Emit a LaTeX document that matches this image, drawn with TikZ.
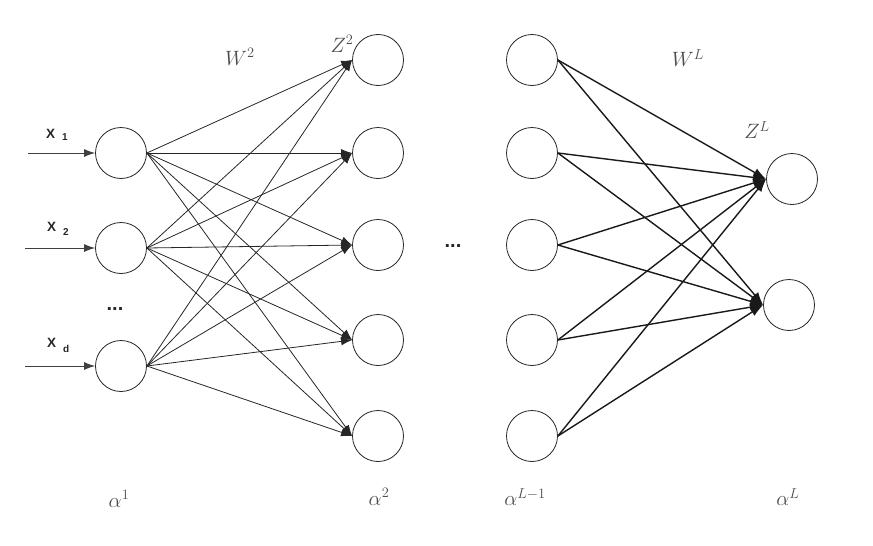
\documentclass[tikz,border=0pt]{standalone}
\usepackage{fontspec}
\newfontfamily\arial{Liberation Sans}
\usetikzlibrary{arrows.meta}
\begin{document}
\begin{tikzpicture}[x=1pt,y=-1pt,
  neuron/.style={circle,draw=black!85,line width=0.8pt,minimum size=51pt,inner sep=0pt},
  thinarrow/.style={draw=black!85,line width=0.8pt,-{Latex[length=11pt,width=8pt]}},
  thickarrow/.style={draw=black!90,line width=1.4pt,-{Latex[length=13pt,width=9pt]}},
  inarrow/.style={draw=black!75,line width=0.9pt,-{Latex[length=11pt,width=8pt]}},
  lab/.style={text=black!70,font=\fontsize{20}{22}\selectfont,inner sep=0pt},
  xlab/.style={font=\arial\bfseries\fontsize{13.5}{14}\selectfont,text=black!85,inner sep=0pt,anchor=base west},
  subl/.style={font=\arial\bfseries\fontsize{10}{10}\selectfont,text=black!85,inner sep=0pt,anchor=base west},
  dots/.style={font=\arial\bfseries\fontsize{20}{20}\selectfont,text=black!85,inner sep=0pt}]
\useasboundingbox (0,0) rectangle (873,546);

% layer 1
\node[neuron] (a1) at (121,153) {};
\node[neuron] (a2) at (121,248) {};
\node[neuron] (a3) at (121,366) {};
% layer 2
\node[neuron] (b1) at (378,60) {};
\node[neuron] (b2) at (378,153) {};
\node[neuron] (b3) at (378,245) {};
\node[neuron] (b4) at (378,340) {};
\node[neuron] (b5) at (378,436) {};
% layer L-1
\node[neuron] (c1) at (532,60) {};
\node[neuron] (c2) at (532,153) {};
\node[neuron] (c3) at (532,245) {};
\node[neuron] (c4) at (532,340) {};
\node[neuron] (c5) at (532,436) {};
% layer L
\node[neuron] (d1) at (792,179) {};
\node[neuron] (d2) at (789,305) {};

% inputs
\coordinate (i1) at (28,153);
\coordinate (i2) at (25,248);
\coordinate (i3) at (25,366);
\draw[inarrow] (i1) -- (a1.west);
\draw[inarrow] (i2) -- (a2.west);
\draw[inarrow] (i3) -- (a3.west);
\node[xlab] (x1) at (46,138) {X};
\node[subl] (s1) at (62,140) {1};
\node[xlab] (x2) at (47,231) {X};
\node[subl] (s2) at (63,235) {2};
\node[xlab] (xd) at (47,347) {X};
\node[subl] (sd) at (63,352) {d};

% connections layer 1 -> 2
\foreach \i in {1,2,3}{
  \foreach \j in {1,...,5}{
    \draw[thinarrow] (a\i.east) -- (b\j.west);
  }
}
% connections layer L-1 -> L
\foreach \i in {1,...,5}{
  \foreach \j in {1,2}{
    \draw[thickarrow] (c\i.east) -- (d\j.west);
  }
}

% dots
\node[dots] (dl) at (115,309) {...};
\node[dots] (dm) at (453,246) {...};

% labels
\node[lab] (w2) at (240,57) {$W^2$};
\node[lab] (z2) at (342,44) {$Z^2$};
\node[lab] (wL) at (688,58) {$W^L$};
\node[lab] (zL) at (757,130) {$Z^L$};
\node[lab] (al1) at (119,499) {$\alpha^1$};
\node[lab] (al2) at (379,497) {$\alpha^2$};
\node[lab] (alL1) at (525,497) {$\alpha^{L-1}$};
\node[lab] (alL) at (788,497) {$\alpha^L$};
\end{tikzpicture}
\end{document}
